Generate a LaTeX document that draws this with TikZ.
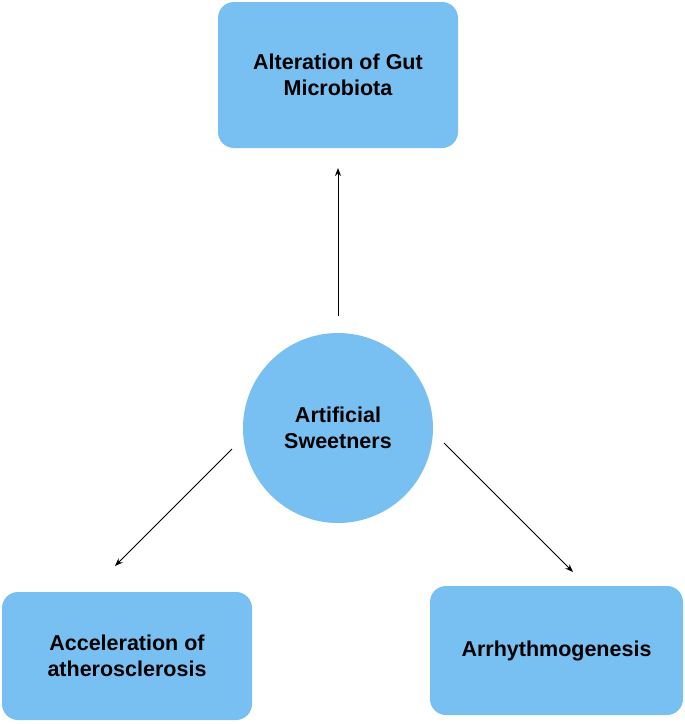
\documentclass[tikz,border=0pt]{standalone}
\usepackage{fontspec}
\setmainfont{Liberation Sans}
\usetikzlibrary{arrows.meta}
\definecolor{boxblue}{RGB}{120,192,242}
\tikzset{
  px/.style={x=1pt,y=-1pt},
  rbox/.style={fill=boxblue, draw=none, rounded corners=16pt, inner sep=0pt, align=center,
    font=\fontsize{21.5}{26}\selectfont\bfseries},
  cbox/.style={fill=boxblue, draw=none, circle, inner sep=0pt, align=center,
    font=\fontsize{21.5}{26}\selectfont\bfseries},
  conn/.style={-{Stealth[length=8pt,width=6pt]}, line width=0.9pt, black}
}
\begin{document}
\begin{tikzpicture}[px]
\useasboundingbox (0,0) rectangle (685,724);
\node[rbox, minimum width=240pt, minimum height=146pt] (gut) at (338,75) {Alteration of Gut\\Microbiota};
\node[cbox, minimum size=190pt] (as) at (338,428) {Artificial\\Sweetners};
\node[rbox, minimum width=250pt, minimum height=128pt] (ath) at (127,656) {Acceleration of\\atherosclerosis};
\node[rbox, minimum width=253pt, minimum height=129pt] (arr) at (556.5,650.5) {Arrhythmogenesis};
\coordinate (s1) at (338,316);
\coordinate (e1) at (338,168);
\coordinate (s2) at (232,449);
\coordinate (e2) at (115,566);
\coordinate (s3) at (444,443);
\coordinate (e3) at (573,572);
\draw[conn] (s1) -- (e1);
\draw[conn] (s2) -- (e2);
\draw[conn] (s3) -- (e3);
\end{tikzpicture}
\end{document}
